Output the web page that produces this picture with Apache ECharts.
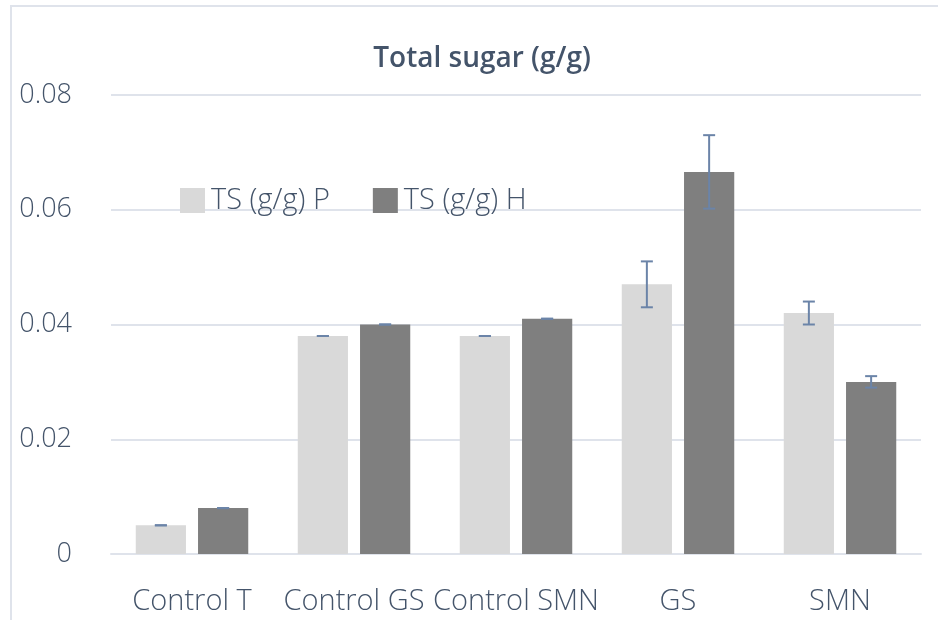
<!DOCTYPE html>
<html>
<head>
<meta charset="utf-8">
<script src="https://cdn.jsdelivr.net/npm/echarts@6/dist/echarts.min.js"></script>
<style>
html,body{margin:0;padding:0;background:#fff;}
#chart{width:938px;height:620px;}
</style>
</head>
<body>
<div id="chart"></div>
<script>
// data
var categories = ['Control T', 'Control GS', 'Control SMN', 'GS', 'SMN'];
var seriesNames = ['TS (g/g) P', 'TS (g/g) H'];
var valuesP = [0.005, 0.038, 0.038, 0.047, 0.042];
var valuesH = [0.008, 0.040, 0.041, 0.0666, 0.030];
var errP = [0, 0, 0, 0.004, 0.002];
var errH = [0, 0, 0, 0.0064, 0.001];
var yTicks = [0, 0.02, 0.04, 0.06, 0.08];

var textColor = '#44546a';
var errColor = '#6b84a8';
var barW = 0.31, barGap = 0.24;

function errData(vals, errs) {
    var out = [];
    for (var i = 0; i < vals.length; i++) {
        out.push([i, vals[i] - errs[i], vals[i] + errs[i]]);
    }
    return out;
}

//误差线
function errorBar(side) {
    return function (params, api) {
        var band = api.size([1, 0])[0];
        var off = side * band * barW * (1 + barGap) / 2;
        var lo = api.coord([api.value(0), api.value(1)]);
        var hi = api.coord([api.value(0), api.value(2)]);
        var x = lo[0] + off;
        var cap = 6;
        var style = {stroke: errColor, lineWidth: 2};
        return {
            type: 'group',
            children: [
                {type: 'line', shape: {x1: x, y1: hi[1], x2: x, y2: lo[1]}, style: style},
                {type: 'line', shape: {x1: x - cap, y1: hi[1], x2: x + cap, y2: hi[1]}, style: style},
                {type: 'line', shape: {x1: x - cap, y1: lo[1], x2: x + cap, y2: lo[1]}, style: style}
            ]
        };
    };
}

var chart = echarts.init(document.getElementById('chart'));
var option = {
    backgroundColor: '#fff',
    animation: false,
    textStyle: {fontFamily: '"Open Sans", "Noto Sans", sans-serif', fontWeight: 300},
    graphic: [{
        type: 'rect',
        shape: {x: 11, y: 6, width: 1000, height: 700},
        style: {fill: 'none', stroke: '#dfe3eb', lineWidth: 2},
        silent: true
    }],
    title: {
        text: 'Total sugar (g/g)',
        left: 477,
        textAlign: 'center',
        top: 40,
        textStyle: {color: textColor, fontSize: 28, fontWeight: 600, fontFamily: '"Open Sans", sans-serif'}
    },
    legend: {
        data: seriesNames,
        left: 175,
        top: 181,
        itemWidth: 25,
        itemHeight: 25,
        itemGap: 43,
        icon: 'rect',
        textStyle: {color: textColor, fontSize: 29, fontWeight: 300, padding: [0, 0, 0, 1]}
    },
    grid: {left: 111, right: 17, top: 95, bottom: 66},
    xAxis: {
        type: 'category',
        data: categories,
        axisLine: {lineStyle: {color: '#dfe3eb', width: 2}},
        axisTick: {show: false},
        axisLabel: {color: textColor, fontSize: 29, fontWeight: 300, margin: 33, interval: 0, hideOverlap: false}
    },
    yAxis: {
        type: 'value',
        min: yTicks[0],
        max: yTicks[yTicks.length - 1],
        interval: 0.02,
        axisLine: {show: false},
        axisTick: {show: false},
        splitLine: {lineStyle: {color: '#dfe3eb', width: 2}},
        axisLabel: {
            color: textColor, fontSize: 27, fontWeight: 300, margin: 39,
            formatter: function (v) { return v === 0 ? '0' : v.toFixed(2); }
        }
    },
    series: [
        {
            name: seriesNames[0], type: 'bar', data: valuesP,
            barWidth: (barW * 100) + '%', barGap: (barGap * 100) + '%',
            itemStyle: {color: '#d9d9d9'}
        },
        {
            name: seriesNames[1], type: 'bar', data: valuesH,
            barWidth: (barW * 100) + '%',
            itemStyle: {color: '#7f7f7f'}
        },
        {
            type: 'custom', renderItem: errorBar(-1), data: errData(valuesP, errP),
            encode: {x: 0, y: [1, 2]}, z: 10, silent: true
        },
        {
            type: 'custom', renderItem: errorBar(1), data: errData(valuesH, errH),
            encode: {x: 0, y: [1, 2]}, z: 10, silent: true
        }
    ]
};
chart.setOption(option);
</script>
</body>
</html>
